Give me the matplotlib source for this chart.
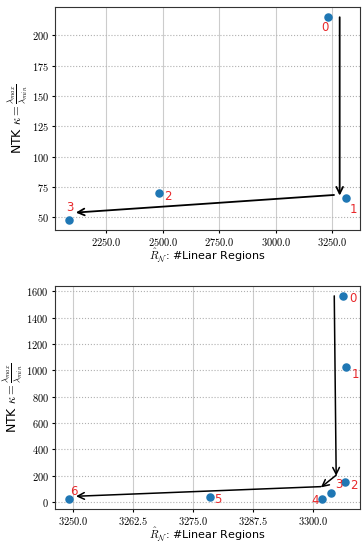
import matplotlib
matplotlib.use('Agg')
import matplotlib.pyplot as plt
from matplotlib.ticker import FuncFormatter, MultipleLocator

plt.rcParams['mathtext.fontset'] = 'cm'

# top panel: linear regions vs NTK condition number
top_regions = [3232, 3309, 2485, 2084]
top_kappa = [215, 66, 70, 48]
top_labels = ['0', '1', '2', '3']
top_label_offsets = [(-5, -12), (3, -13), (3, -7), (-2, 4)]
top_arrows = [((3282, 215), (3282, 68)), ((3257, 68.5), (2115, 54))]

# bottom panel
bot_regions = [3306.3, 3306.8, 3306.6, 3303.7, 3301.9, 3278.6, 3249.1]
bot_kappa = [1562, 1028, 152, 73, 25, 38, 25]
bot_labels = ['0', '1', '2', '3', '4', '5', '6']
bot_label_offsets = [(4, -6), (4, -10), (4, -7), (3, 1), (-8, -6), (3, -6), (1, 1)]
bot_arrows = [((3304.4, 1565), (3304.8, 200)), ((3304.8, 205), (3301.6, 112)),
              ((3301.6, 118), (3250.6, 45))]

xlabel = r'$\hat{R}_{\mathcal{N}}$: #Linear Regions'
ylabel = r'NTK $\kappa = \frac{\lambda_{max}}{\lambda_{min}}$'


def draw_panel(ax, xs, ys, labels, offsets, arrows, lw):
    ax.scatter(xs, ys, s=26, color='#1f77b4', zorder=3)
    for x, y, lab, off in zip(xs, ys, labels, offsets):
        ax.annotate(lab, (x, y), xytext=off, textcoords='offset points',
                    color='#e8282b', fontsize=8.5, ha='left', va='bottom')
    for start, end in arrows:
        ax.annotate('', xy=end, xytext=start,
                    arrowprops=dict(arrowstyle='->', color='black', lw=lw,
                                    mutation_scale=12, shrinkA=0, shrinkB=0))
    ax.xaxis.grid(True, color='#cccccc', ls='-', lw=0.8)
    ax.yaxis.grid(True, color='#b0b0b0', ls=':', lw=0.8)
    ax.set_axisbelow(True)
    ax.set_xlabel(xlabel, fontsize=8, labelpad=-1)
    ax.set_ylabel(ylabel, fontsize=9, labelpad=1)
    ax.tick_params(labelsize=7.5, length=2.5, pad=2)
    ax.yaxis.set_major_formatter(FuncFormatter(lambda v, p: f'${v:g}$'))
    for sp in ax.spines.values():
        sp.set_color('#333333')
        sp.set_linewidth(0.8)


fig, (ax1, ax2) = plt.subplots(2, 1, figsize=(3.64, 5.45), dpi=100)
fig.subplots_adjust(left=0.151, right=0.988, top=0.987, bottom=0.066, hspace=0.252)

draw_panel(ax1, top_regions, top_kappa, top_labels, top_label_offsets, top_arrows, 1.3)
ax1.xaxis.set_major_locator(MultipleLocator(250))
ax1.yaxis.set_major_locator(MultipleLocator(25))
ax1.xaxis.set_major_formatter(FuncFormatter(lambda v, p: f'${v:.1f}$'))

draw_panel(ax2, bot_regions, bot_kappa, bot_labels, bot_label_offsets, bot_arrows, 1.1)
ax2.xaxis.set_major_locator(MultipleLocator(12.5))
ax2.yaxis.set_major_locator(MultipleLocator(200))
ax2.xaxis.set_major_formatter(FuncFormatter(lambda v, p: f'${v:.1f}$'))

fig.savefig('out.png', dpi=100)
